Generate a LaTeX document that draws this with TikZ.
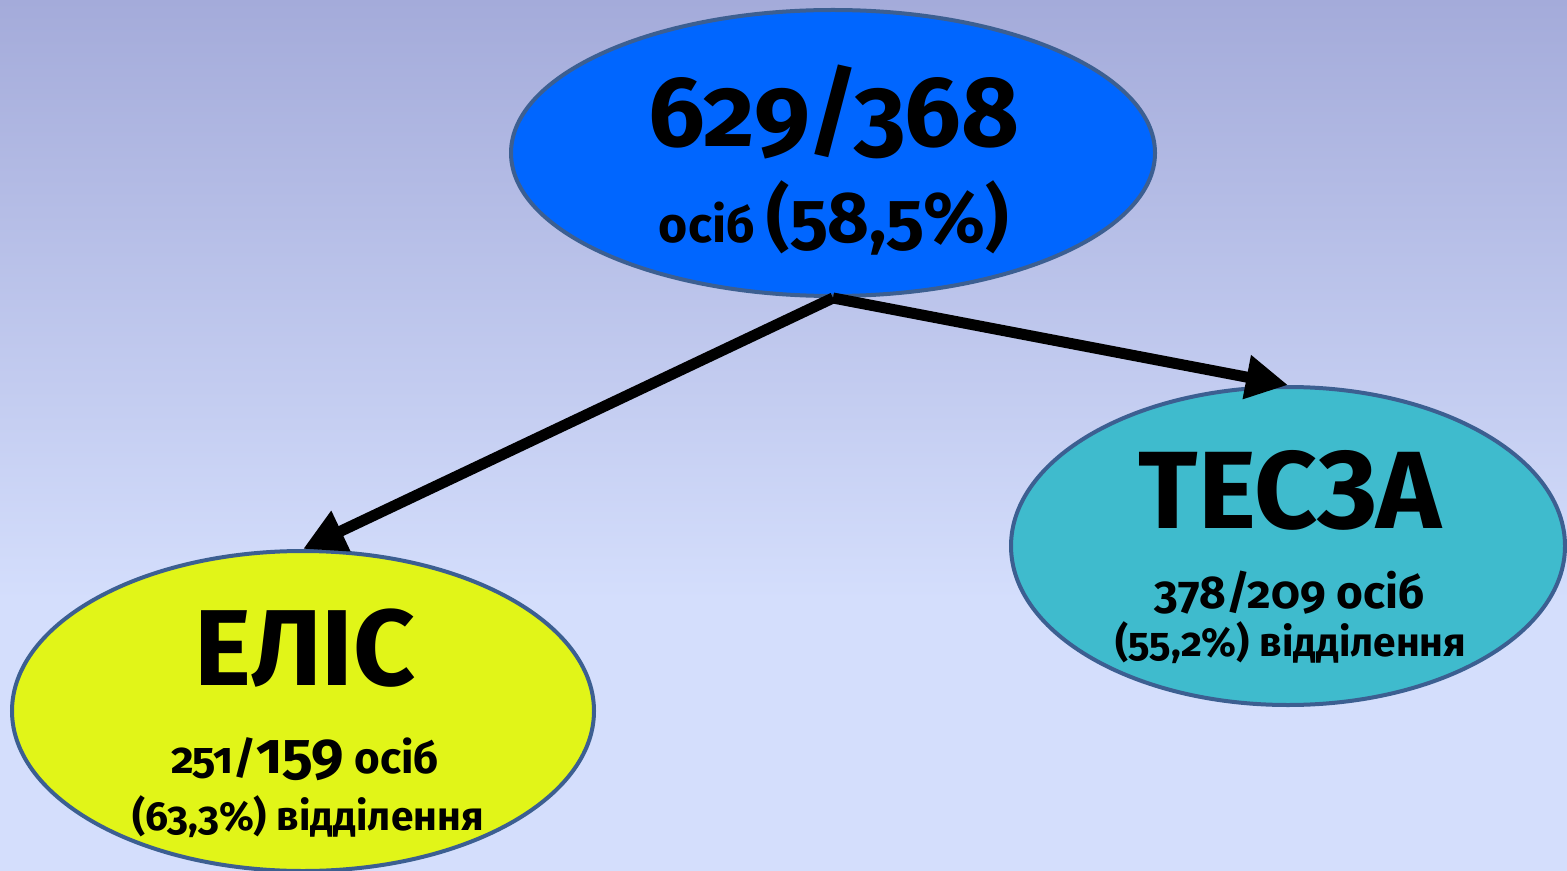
\documentclass[tikz,border=0pt]{standalone}
\usepackage{fontspec}
\setmainfont{Fira Sans}[Numbers=OldStyle]
\usetikzlibrary{shapes.geometric,arrows.meta}
\definecolor{bgtop}{RGB}{164,171,218}
\definecolor{bgbot}{RGB}{212,222,252}
\definecolor{rim}{RGB}{60,95,145}
\definecolor{topfill}{RGB}{0,102,255}
\definecolor{tealfill}{RGB}{63,187,205}
\definecolor{yelfill}{RGB}{225,245,24}
\tikzset{
  oval/.style={ellipse,draw=rim,line width=2pt,inner sep=0pt},
  lbl/.style={anchor=base,inner sep=0pt,font=\bfseries},
  arr/.style={line width=5.5pt,-{Triangle[length=21pt,width=21pt]}}
}
\begin{document}
\begin{tikzpicture}[x=0.5pt,y=-0.5pt]
\useasboundingbox (0,0) rectangle (1567,871);
\shade[top color=bgtop,bottom color=bgbot] (0,0) rectangle (1567,600);
\fill[bgbot] (0,599) rectangle (1567,871);
% ellipses
\node[oval,fill=topfill,minimum width=322pt,minimum height=143pt] (top) at (833,153) {};
\node[oval,fill=tealfill,minimum width=277pt,minimum height=159pt] (tesza) at (1288,546) {};
\node[oval,fill=yelfill,minimum width=291pt,minimum height=160pt] (elis) at (303,711) {};
% arrows
\draw[arr] (top.south) -- (tesza.north);
\draw[arr] (top.south) -- (elis.north);
% texts
\node[lbl,font=\bfseries\fontsize{50}{50}\selectfont] (t1) at (834,147) {629/368};
\node[lbl] (t2) at (834,243) {\fontsize{25}{25}\selectfont осіб {\fontsize{36}{36}\selectfont (58,5\%)}};
\node[lbl,font=\bfseries\fontsize{55}{55}\selectfont] (s1) at (1290,528) {ТЕСЗА};
\node[lbl,font=\bfseries\fontsize{23}{23}\selectfont] (s2) at (1290,608) {378/209 осіб};
\node[lbl,font=\bfseries\fontsize{20.3}{20.3}\selectfont] (s3) at (1291,656) {(55,2\%) відділення};
\node[lbl,font=\bfseries\fontsize{54}{54}\selectfont] (e1) at (305,685) {ЕЛІС};
\node[lbl] (e2) at (305,773) {\fontsize{22}{22}\selectfont 251/{\fontsize{29}{29}\selectfont 159} осіб};
\node[lbl,font=\bfseries\fontsize{20.3}{20.3}\selectfont] (e3) at (308,830) {(63,3\%) відділення};
\end{tikzpicture}
\end{document}
